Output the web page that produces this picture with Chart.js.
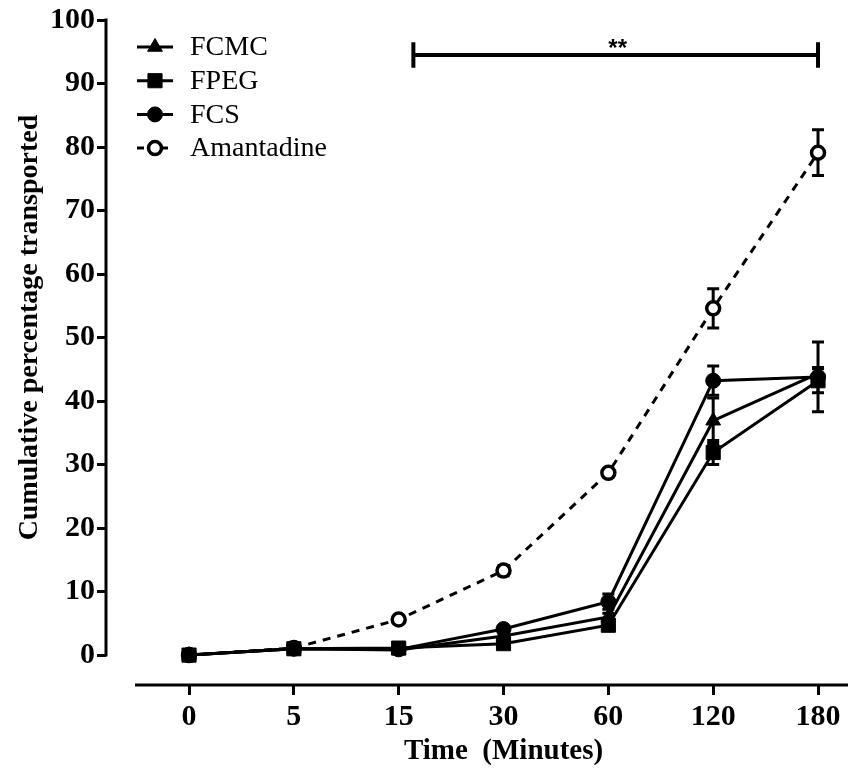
<!DOCTYPE html>
<html>
<head>
<meta charset="utf-8">
<script src="https://cdn.jsdelivr.net/npm/chart.js@4.4.0/dist/chart.umd.min.js"></script>
<style>
  html, body { margin: 0; padding: 0; background: #fff; }
  canvas { display: block; }
</style>
</head>
<body>
<canvas id="chart" width="864" height="769"></canvas>
<script>
// time points (minutes), plotted evenly spaced like the original
var timeLabels = ['0', '5', '15', '30', '60', '120', '180'];
var yTicks = [0, 10, 20, 30, 40, 50, 60, 70, 80, 90, 100];

// mean cumulative % transported
var fcmc       = [0, 1.0, 0.8, 3.0, 6.0, 36.9, 44.3];
var fpeg       = [0, 1.0, 1.1, 1.8, 4.7, 31.9, 43.2];
var fcs        = [0, 1.0, 0.9, 4.1, 8.4, 43.2, 43.8];
var amantadine = [0, 1.1, 5.6, 13.3, 28.7, 54.6, 79.1];

// error bars (SD)
var fcmcSd       = [0, 0.2, 0.2, 0.3, 0.6, 3.6, 1.0];
var fpegSd       = [0, 0.2, 0.3, 0.3, 0.5, 1.9, 1.9];
var fcsSd        = [0, 0.2, 0.2, 0.4, 1.2, 2.3, 5.5];
var amantadineSd = [0, 0.2, 0.4, 0.8, 0.6, 3.1, 3.6];

// significance bracket: from / to (x index), height, label
var sigFrom = 2.14, sigTo = 6, sigY = 94.5, sigLabel = '**';

var serif = 'Liberation Serif';

function toPoints(arr) {
  return arr.map(function(v, i) { return {x: i, y: v}; });
}

function makeSet(label, values, sd, style, radius, dashed) {
  return {
    label: label,
    data: toPoints(values),
    sd: sd,
    borderColor: '#000',
    borderWidth: 3,
    borderDash: dashed ? [8, 7] : [],
    pointStyle: style,
    pointRadius: radius,
    pointBorderWidth: dashed ? 3.5 : 1,
    pointBackgroundColor: dashed ? '#fff' : '#000',
    pointBorderColor: '#000',
    tension: 0,
    fill: false
  };
}

var errorBars = {
  id: 'errorBars',
  beforeDatasetsDraw: function(chart) {
    var ctx = chart.ctx, xs = chart.scales.x, ys = chart.scales.y;
    ctx.save();
    ctx.strokeStyle = '#000';
    ctx.lineWidth = 3;
    chart.data.datasets.forEach(function(ds) {
      ds.data.forEach(function(p, i) {
        var s = ds.sd[i];
        if (!s) return;
        var px = xs.getPixelForValue(p.x);
        var top = ys.getPixelForValue(p.y + s);
        var bot = ys.getPixelForValue(p.y - s);
        ctx.beginPath();
        ctx.moveTo(px, top); ctx.lineTo(px, bot);
        ctx.moveTo(px - 6, top); ctx.lineTo(px + 6, top);
        ctx.moveTo(px - 6, bot); ctx.lineTo(px + 6, bot);
        ctx.stroke();
      });
    });
    ctx.restore();
  }
};

var decorations = {
  id: 'decorations',
  afterDraw: function(chart) {
    var ctx = chart.ctx, xs = chart.scales.x, ys = chart.scales.y, area = chart.chartArea;
    ctx.save();
    ctx.strokeStyle = '#000';
    ctx.fillStyle = '#000';
    ctx.lineWidth = 3;
    ctx.setLineDash([]);

    // offset axis lines
    ctx.beginPath();
    ctx.moveTo(area.left, ys.getPixelForValue(100) - 1.5);
    ctx.lineTo(area.left, ys.getPixelForValue(0) + 1.5);
    ctx.moveTo(xs.getPixelForValue(-0.515), area.bottom);
    ctx.lineTo(area.right, area.bottom);
    ctx.stroke();

    // axis titles
    ctx.font = 'bold 29px "' + serif + '"';
    ctx.textAlign = 'center';
    ctx.textBaseline = 'middle';
    ctx.fillText('Time  (Minutes)', (xs.getPixelForValue(0) + xs.getPixelForValue(6)) / 2, 752);
    ctx.font = 'bold 28px "' + serif + '"';
    ctx.save();
    ctx.translate(30, (ys.getPixelForValue(0) + ys.getPixelForValue(100)) / 2 - 10);
    ctx.rotate(-Math.PI / 2);
    ctx.fillText('Cumulative percentage transported', 0, 0);
    ctx.restore();

    // significance bracket
    var x1 = xs.getPixelForValue(sigFrom), x2 = xs.getPixelForValue(sigTo);
    var yb = ys.getPixelForValue(sigY);
    ctx.lineWidth = 4;
    ctx.beginPath();
    ctx.moveTo(x1, yb); ctx.lineTo(x2, yb);
    ctx.moveTo(x1, ys.getPixelForValue(sigY + 2)); ctx.lineTo(x1, ys.getPixelForValue(sigY - 2));
    ctx.moveTo(x2, ys.getPixelForValue(sigY + 2)); ctx.lineTo(x2, ys.getPixelForValue(sigY - 2));
    ctx.stroke();
    ctx.font = 'bold 24px "Liberation Sans"';
    ctx.textBaseline = 'alphabetic';
    ctx.fillText(sigLabel, (x1 + x2) / 2 + 2, yb + 1);

    // legend, Prism style: line + marker, then label
    ctx.font = '28px "' + serif + '"';
    ctx.textAlign = 'left';
    ctx.textBaseline = 'middle';
    chart.data.datasets.forEach(function(ds, i) {
      var ly = 47 + i * 33.7;
      ctx.strokeStyle = '#000';
      ctx.lineWidth = 3;
      ctx.setLineDash(ds.borderDash.length ? [7, 5] : []);
      ctx.beginPath();
      ctx.moveTo(137, ly); ctx.lineTo(173, ly);
      ctx.stroke();
      ctx.setLineDash([]);
      ctx.fillStyle = ds.pointBackgroundColor;
      ctx.lineWidth = ds.pointBorderWidth;
      Chart.helpers.drawPoint(ctx, {
        pointStyle: ds.pointStyle, radius: ds.pointRadius, rotation: 0, borderWidth: ds.pointBorderWidth
      }, 155, ly);
      ctx.fillStyle = '#000';
      ctx.fillText(ds.label, 190, ly + 1);
    });
    ctx.restore();
  }
};

new Chart(document.getElementById('chart'), {
  type: 'line',
  data: {
    datasets: [
      makeSet('FCMC', fcmc, fcmcSd, 'triangle', 8.5, false),
      makeSet('FPEG', fpeg, fpegSd, 'rect', 10, false),
      makeSet('FCS', fcs, fcsSd, 'circle', 7.5, false),
      makeSet('Amantadine', amantadine, amantadineSd, 'circle', 6.5, true)
    ]
  },
  options: {
    responsive: false,
    animation: false,
    layout: { padding: { top: 18, right: 16, left: 0, bottom: 0 } },
    plugins: {
      legend: { display: false },
      tooltip: { enabled: false }
    },
    scales: {
      x: {
        type: 'linear',
        min: -0.792,
        max: 6.286,
        afterBuildTicks: function(scale) {
          scale.ticks = timeLabels.map(function(t, i) { return {value: i}; });
        },
        afterFit: function(scale) { scale.height = 84; },
        border: { display: false },
        grid: { drawOnChartArea: false, drawTicks: true, tickLength: 10, lineWidth: 3, color: '#000' },
        ticks: {
          color: '#000',
          padding: 4,
          maxRotation: 0,
          font: { family: serif, size: 30, weight: 'bold' },
          callback: function(v) { return timeLabels[v]; }
        }
      },
      y: {
        min: -4.71,
        max: 100,
        afterBuildTicks: function(scale) {
          scale.ticks = yTicks.map(function(v) { return {value: v}; });
        },
        afterFit: function(scale) { scale.width = 106; },
        border: { display: false },
        grid: { drawOnChartArea: false, drawTicks: true, tickLength: 9, lineWidth: 3, color: '#000' },
        ticks: {
          color: '#000',
          padding: 2,
          font: { family: serif, size: 30, weight: 'bold' }
        }
      }
    }
  },
  plugins: [errorBars, decorations]
});
</script>
</body>
</html>
